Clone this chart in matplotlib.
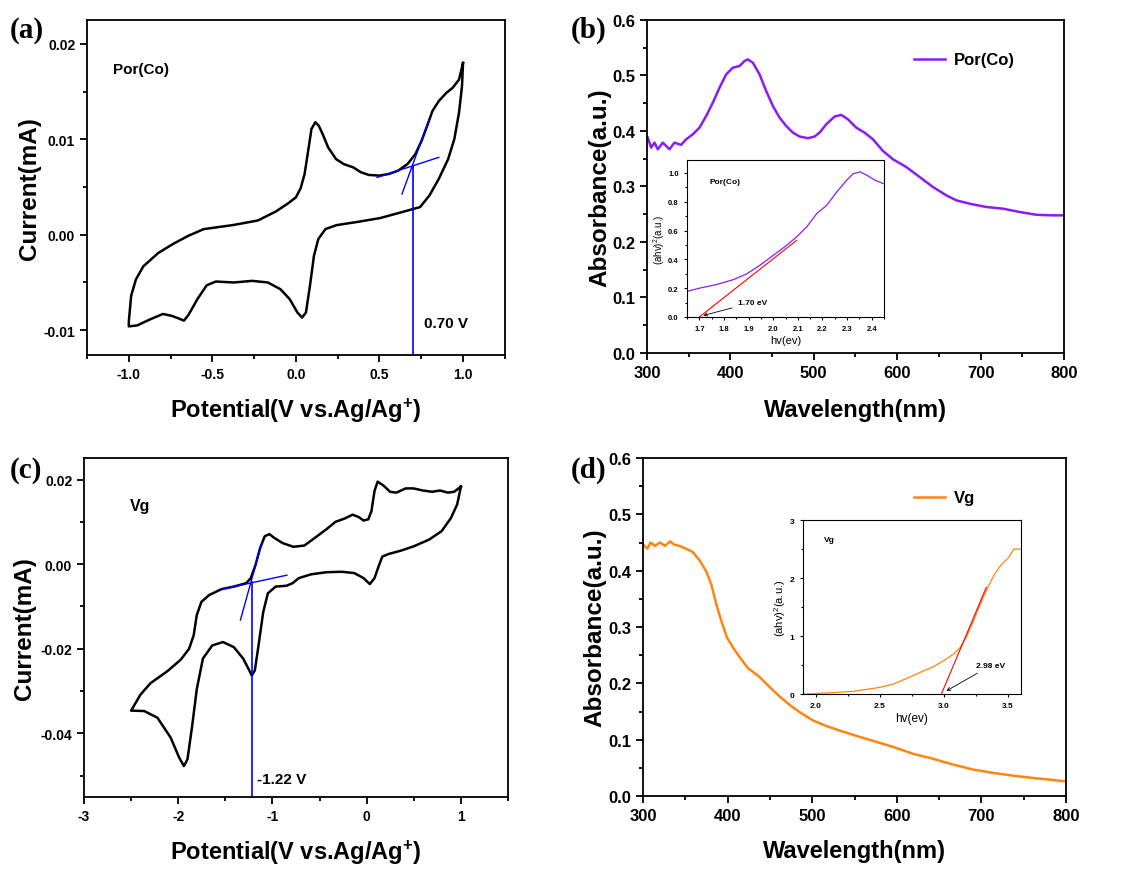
import matplotlib
matplotlib.use("Agg")
import matplotlib.pyplot as plt
from matplotlib.ticker import MultipleLocator

plt.rcParams['font.family'] = ['Liberation Sans', 'DejaVu Sans']
plt.rcParams['font.weight'] = 'bold'
plt.rcParams['axes.labelweight'] = 'bold'
plt.rcParams['axes.unicode_minus'] = False
plt.rcParams['mathtext.default'] = 'regular'

# ---- (a) CV of Por(Co): one closed loop, V and mA
cv_co_v = [1.0, 0.976, 0.938, 0.901, 0.855, 0.817, 0.789, 0.752, 0.715, 0.668, 0.612, 0.556,
           0.5, 0.436, 0.389, 0.342, 0.286, 0.24, 0.193, 0.156, 0.136, 0.116, 0.093, 0.075,
           0.052, 0.028, 0.0, -0.047, -0.119, -0.227, -0.372, -0.552, -0.643, -0.733, -0.823,
           -0.913, -0.958, -0.986, -1.0,
           -1.0, -0.95, -0.877, -0.796, -0.742, -0.697, -0.67, -0.643, -0.588, -0.534, -0.48,
           -0.372, -0.261, -0.168, -0.093, -0.037, 0.009, 0.037, 0.06, 0.084, 0.108, 0.134,
           0.177, 0.243, 0.373, 0.504, 0.65, 0.743, 0.799, 0.855, 0.911, 0.948, 0.976, 0.994,
           1.0]
cv_co_i = [0.018, 0.01626, 0.0154, 0.01488, 0.01401, 0.01297, 0.01158, 0.00984, 0.00845,
           0.00741, 0.00672, 0.00637, 0.0062, 0.00627, 0.00655, 0.00707, 0.00741, 0.00793,
           0.00915, 0.01071, 0.01145, 0.01179, 0.01108, 0.00899, 0.00636, 0.00486, 0.00392,
           0.00329, 0.00245, 0.0015, 0.00103, 0.00059, -0.0001, -0.00094, -0.0019, -0.0033,
           -0.0047, -0.0064, -0.0091,
           -0.0096, -0.0095, -0.0089, -0.0083, -0.0085, -0.0088, -0.0090, -0.0084, -0.0067,
           -0.0053, -0.0049, -0.0050, -0.00483, -0.0050, -0.0057, -0.00675, -0.00815,
           -0.00867, -0.00815, -0.00535, -0.0022, -0.00045, 0.0006, 0.00101, 0.00136,
           0.00175, 0.00245, 0.0029, 0.00412, 0.00585, 0.00793, 0.01002, 0.01279, 0.01557,
           0.018]
co_onset = 0.70

# ---- (c) CV of Vg
cv_vg_v = [1.0, 0.927, 0.861, 0.778, 0.695, 0.596, 0.497, 0.414, 0.315, 0.248, 0.182, 0.116,
           0.083, 0.05, 0.017, -0.033, -0.083, -0.149, -0.232, -0.331, -0.43, -0.563, -0.662,
           -0.778, -0.894, -0.98, -1.033, -1.082, -1.131, -1.18, -1.23, -1.279, -1.41, -1.541,
           -1.672, -1.754, -1.803, -1.836, -1.885, -1.975, -2.116, -2.293, -2.4, -2.5,
           -2.36, -2.22, -2.08, -1.99, -1.94, -1.902, -1.852, -1.803, -1.738, -1.639, -1.525,
           -1.41, -1.311, -1.246, -1.22, -1.187, -1.148, -1.098, -1.049, -0.967, -0.852,
           -0.787, -0.721, -0.59, -0.426, -0.262, -0.132, -0.033, 0.033, 0.083, 0.133, 0.166,
           0.232, 0.364, 0.497, 0.662, 0.795, 0.894, 0.96, 1.0]
cv_vg_i = [0.0183, 0.0171, 0.0169, 0.0174, 0.0171, 0.0174, 0.0179, 0.0179, 0.0169, 0.0171,
           0.0185, 0.0195, 0.0173, 0.0125, 0.0106, 0.0103, 0.0111, 0.0117, 0.0108, 0.0100,
           0.0082, 0.0060, 0.0044, 0.0041, 0.0050, 0.0062, 0.0071, 0.0066, 0.0038, -0.0002,
           -0.0033, -0.0045, -0.0053, -0.0059, -0.0073, -0.0089, -0.0120, -0.0168, -0.0200,
           -0.0226, -0.0253, -0.0281, -0.0308, -0.0346,
           -0.0347, -0.0363, -0.041, -0.0457, -0.0477, -0.0461, -0.0382, -0.0295, -0.0223,
           -0.0192, -0.0184, -0.0196, -0.0223, -0.0251, -0.0263, -0.0251, -0.0192, -0.0113,
           -0.0069, -0.0053, -0.0051, -0.0045, -0.0033, -0.0024, -0.0019, -0.0018, -0.0021,
           -0.0033, -0.0047, -0.0033, -0.0001, 0.0018, 0.0024, 0.0032, 0.0042, 0.0058,
           0.0078, 0.0109, 0.0141, 0.0183]
vg_onset = -1.22

# ---- (b) UV-vis Por(Co)
uv_co_wl = [301, 305, 309, 313, 319, 327, 333, 341, 347, 355, 363, 371, 379, 387, 395, 403,
            411, 417, 421, 427, 435, 443, 451, 459, 467, 475, 483, 493, 501, 507, 515, 525,
            533, 541, 551, 561, 571, 583, 595, 611, 627, 643, 659, 671, 687, 707, 727, 747,
            767, 787, 799]
uv_co_abs = [0.388, 0.370, 0.379, 0.367, 0.379, 0.367, 0.379, 0.375, 0.385, 0.394, 0.406,
             0.427, 0.451, 0.478, 0.502, 0.514, 0.517, 0.526, 0.529, 0.523, 0.502, 0.472,
             0.445, 0.424, 0.409, 0.397, 0.390, 0.387, 0.390, 0.397, 0.412, 0.426, 0.429,
             0.421, 0.406, 0.397, 0.385, 0.364, 0.349, 0.335, 0.317, 0.299, 0.284, 0.275,
             0.269, 0.263, 0.260, 0.254, 0.249, 0.248, 0.248]
tauc_co_ev = [1.651, 1.703, 1.77, 1.838, 1.892, 1.946, 2.0, 2.055, 2.095, 2.136, 2.177, 2.217,
              2.258, 2.298, 2.325, 2.353, 2.38, 2.414, 2.447]
tauc_co_y = [0.178, 0.201, 0.225, 0.259, 0.299, 0.359, 0.428, 0.498, 0.556, 0.625, 0.718,
             0.775, 0.868, 0.949, 0.995, 1.007, 0.984, 0.949, 0.926]
fit_co_ev = [1.70, 2.095]
fit_co_y = [0.0, 0.532]

# ---- (d) UV-vis Vg
uv_vg_wl = [301, 305, 309, 314, 320, 326, 332, 337, 343, 351, 359, 367, 375, 381, 387, 393,
            399, 407, 414, 424, 438, 450, 462, 474, 485, 501, 517, 537, 556, 576, 596, 619,
            643, 666, 690, 714, 738, 761, 781, 799]
uv_vg_abs = [0.445, 0.439, 0.450, 0.444, 0.450, 0.444, 0.452, 0.446, 0.444, 0.439, 0.433,
             0.418, 0.398, 0.374, 0.338, 0.309, 0.282, 0.262, 0.247, 0.227, 0.211, 0.193,
             0.176, 0.161, 0.149, 0.134, 0.124, 0.114, 0.105, 0.096, 0.087, 0.075, 0.066,
             0.056, 0.047, 0.041, 0.036, 0.032, 0.029, 0.026]
tauc_vg_ev = [1.906, 2.083, 2.29, 2.5, 2.605, 2.71, 2.814, 2.918, 2.997, 3.075, 3.127, 3.18,
              3.23, 3.284, 3.336, 3.388, 3.44, 3.505, 3.545, 3.597]
tauc_vg_y = [0.0, 0.017, 0.046, 0.115, 0.172, 0.27, 0.374, 0.471, 0.575, 0.69, 0.805, 1.006,
             1.264, 1.552, 1.81, 2.04, 2.213, 2.356, 2.5, 2.5]
fit_vg_ev = [2.98, 3.33]
fit_vg_y = [0.0, 1.84]

purple = '#8a1cf5'
orange = '#ff8410'


def style(ax, xmaj, xmin, ymaj, ymin, size, tl=5, lw=1.3):
    ax.xaxis.set_major_locator(MultipleLocator(xmaj))
    ax.xaxis.set_minor_locator(MultipleLocator(xmin))
    ax.yaxis.set_major_locator(MultipleLocator(ymaj))
    ax.yaxis.set_minor_locator(MultipleLocator(ymin))
    ax.tick_params(which='major', direction='out', length=tl, width=lw, labelsize=size)
    ax.tick_params(which='minor', direction='out', length=tl * 0.6, width=lw)
    for s in ax.spines.values():
        s.set_linewidth(lw)


fig = plt.figure(figsize=(11.23, 8.7), dpi=100)

# (a)
ax = fig.add_axes([0.0775, 0.5908, 0.372, 0.385])
ax.plot(cv_co_v, cv_co_i, color='black', lw=1.8)
ax.plot([0.486, 0.855], [0.00601, 0.00811], color='blue', lw=1)
ax.plot([0.635, 0.795], [0.00427, 0.01196], color='blue', lw=1)
ax.plot([co_onset, co_onset], [0.00724, -0.0126], color='blue', lw=1.2)
ax.text(0.765, -0.0092, f'{co_onset:.2f} V', fontsize=11, va='center')
ax.text(0.062, 0.855, 'Por(Co)', transform=ax.transAxes, fontsize=11, va='center')
ax.set_xlim(-1.25, 1.25)
ax.set_ylim(-0.0126, 0.0225)
style(ax, 0.5, 0.25, 0.01, 0.005, 10)
ax.set_xlabel('Potential(V vs.Ag/Ag$^{+}$)', fontsize=17, labelpad=11)
ax.set_ylabel('Current(mA)', fontsize=17.5, labelpad=1.5)

# (b)
ax = fig.add_axes([0.5761, 0.5931, 0.3713, 0.3828])
ax.plot(uv_co_wl, uv_co_abs, color=purple, lw=1.8, label='Por(Co)')
ax.set_xlim(300, 800)
ax.set_ylim(0, 0.6)
style(ax, 100, 50, 0.1, 0.05, 12)
ax.set_xlabel('Wavelength(nm)', fontsize=17, labelpad=13)
ax.set_ylabel('Absorbance(a.u.)', fontsize=17.5, labelpad=0.5)
ax.legend(loc='center left', bbox_to_anchor=(0.64, 0.88), frameon=False, fontsize=12,
          handlelength=1.9, handletextpad=0.5, borderpad=0, borderaxespad=0)

ins = fig.add_axes([0.6118, 0.6345, 0.1754, 0.1805])
ins.plot(tauc_co_ev, tauc_co_y, color=purple, lw=0.9)
ins.plot(fit_co_ev, fit_co_y, color='red', lw=0.8)
ins.annotate('1.70 eV', xy=(1.705, 0.005), xytext=(1.855, 0.1), fontsize=6, va='center',
             arrowprops=dict(arrowstyle='->', color='black', lw=0.6))
ins.text(1.743, 0.94, 'Por(Co)', fontsize=6, va='center')
ins.set_xlim(1.65, 2.45)
ins.set_ylim(0, 1.09)
style(ins, 0.1, 0.05, 0.2, 0.1, 5.5, tl=2.5, lw=0.8)
ins.set_xlabel('hv(ev)', fontsize=8, fontweight='normal', labelpad=2)
ins.set_ylabel('(ahv)$^{2}$(a.u.)', fontsize=7, fontweight='normal', labelpad=1)

# (c)
ax = fig.add_axes([0.0748, 0.0828, 0.3776, 0.3897])
ax.plot(cv_vg_v, cv_vg_i, color='black', lw=1.8)
ax.plot([-1.534, -0.847], [-0.0059, -0.0026], color='blue', lw=1)
ax.plot([-1.34, -1.11], [-0.0132, 0.0053], color='blue', lw=1)
ax.plot([vg_onset, vg_onset], [-0.0043, -0.055], color='blue', lw=1.2)
ax.text(-1.164, -0.0508, f'{vg_onset:.2f} V', fontsize=11, va='center')
ax.text(0.108, 0.859, 'Vg', transform=ax.transAxes, fontsize=11.5, va='center')
ax.set_xlim(-3, 1.5)
ax.set_ylim(-0.055, 0.0251)
style(ax, 1, 0.5, 0.02, 0.01, 10)
ax.set_xlabel('Potential(V vs.Ag/Ag$^{+}$)', fontsize=17, labelpad=11)
ax.set_ylabel('Current(mA)', fontsize=17.5, labelpad=3)

# (d)
ax = fig.add_axes([0.5726, 0.0839, 0.3767, 0.3885])
ax.plot(uv_vg_wl, uv_vg_abs, color=orange, lw=1.8, label='Vg')
ax.set_xlim(300, 800)
ax.set_ylim(0, 0.6)
style(ax, 100, 50, 0.1, 0.05, 12)
ax.set_xlabel('Wavelength(nm)', fontsize=17, labelpad=12)
ax.set_ylabel('Absorbance(a.u.)', fontsize=17.5, labelpad=1)
ax.legend(loc='center left', bbox_to_anchor=(0.64, 0.882), frameon=False, fontsize=12,
          handlelength=1.9, handletextpad=0.5, borderpad=0, borderaxespad=0)

ins = fig.add_axes([0.7150, 0.2011, 0.1941, 0.2])
ins.plot(tauc_vg_ev, tauc_vg_y, color=orange, lw=0.9)
ins.plot(fit_vg_ev, fit_vg_y, color='red', lw=0.8)
ins.annotate('2.98 eV', xy=(3.0, 0.03), xytext=(3.25, 0.49), fontsize=6, va='center',
             arrowprops=dict(arrowstyle='->', color='black', lw=0.6))
ins.text(2.06, 2.66, 'Vg', fontsize=6, va='center')
ins.set_xlim(1.9, 3.6)
ins.set_ylim(0, 3)
style(ins, 0.5, 0.25, 1, 0.5, 6, tl=2.5, lw=0.8)
ins.set_xlabel('hv(ev)', fontsize=8.5, fontweight='normal', labelpad=2)
ins.set_ylabel('(ahv)$^{2}$(a.u.)', fontsize=8, fontweight='normal', labelpad=1)

# panel letters
for x, y, s in [(0.009, 0.965, '(a)'), (0.508, 0.965, '(b)'),
                (0.009, 0.459, '(c)'), (0.508, 0.459, '(d)')]:
    fig.text(x, y, s, fontsize=21, fontweight='bold', family='Liberation Serif', va='center')

fig.savefig('out.png', dpi=100)
